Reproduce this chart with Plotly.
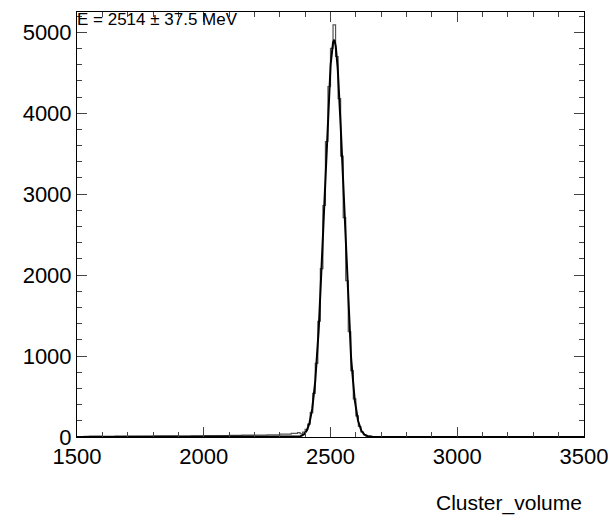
import numpy as np
import plotly.graph_objects as go

# histogram (bin centres, counts)
tail_x = [1525,1575,1625,1675,1725,1775,1825,1875,1925,1975,2025,2075,2125,2175,2225,2275,2325,2365,2375]
tail_y = [8,10,9,11,12,10,13,14,12,15,18,17,20,22,25,28,35,45,55]
peak_x = [2385,2395,2405,2415,2425,2435,2445,2455,2465,2475,2485,2495,2505,2515,2525,2535,2545,2555,2565,2575,2585,2595,2605,2615,2625,2635,2645]
peak_y = [40,60,95,160,300,540,910,1430,2080,2860,3650,4330,4800,5090,4700,4180,3470,2710,1930,1300,820,470,260,130,62,28,12]
right_x = [2675,2725,2775,2825,2875,2925,2975,3025,3075,3125,3175,3225,3275,3325,3375,3425,3475]
right_y = [5,3,2,2,1,1,1,1,0,1,0,0,1,0,0,0,0]
hx = tail_x + peak_x + right_x
hy = tail_y + peak_y + right_y

# gaussian fit parameters
fit_mean, fit_sigma, fit_amp = 2514, 37.5, 4900
fx = np.linspace(1500, 3500, 2001)
fy = fit_amp*np.exp(-0.5*((fx-fit_mean)/fit_sigma)**2)

fig = go.Figure()
fig.add_trace(go.Scatter(x=hx, y=hy, mode="lines", line=dict(color="#555", width=1.2, shape="hvh")))
fig.add_trace(go.Scatter(x=fx, y=fy, mode="lines", line=dict(color="black", width=2)))
ax = dict(showline=True, linecolor="black", linewidth=1, mirror="ticks", ticks="inside",
          ticklen=10, showgrid=False, zeroline=False, automargin=False,
          tickfont=dict(size=22, color="black"))
fig.update_xaxes(range=[1500,3500], dtick=500, minor=dict(dtick=100, ticks="inside", ticklen=5), **ax)
fig.update_yaxes(range=[0,5250], dtick=1000, minor=dict(dtick=200, ticks="inside", ticklen=5), **ax)
fig.update_layout(width=608, height=510, margin=dict(l=69, r=32, t=4, b=81),
    plot_bgcolor="white", paper_bgcolor="white", showlegend=False,
    font=dict(family="Liberation Sans, Arial, sans-serif", color="black"),
    annotations=[
        dict(text="E = 2514 ± 37.5 MeV", x=0.0, y=1.0, xref="paper", yref="paper",
             xanchor="left", yanchor="top", showarrow=False, font=dict(size=17), xshift=-2, yshift=4),
        dict(text="Cluster_volume", x=1.0, y=0, xref="paper", yref="paper", yshift=-52,
             xanchor="right", yanchor="top", showarrow=False, font=dict(size=21)),
    ])
fig.write_html("out.html")
